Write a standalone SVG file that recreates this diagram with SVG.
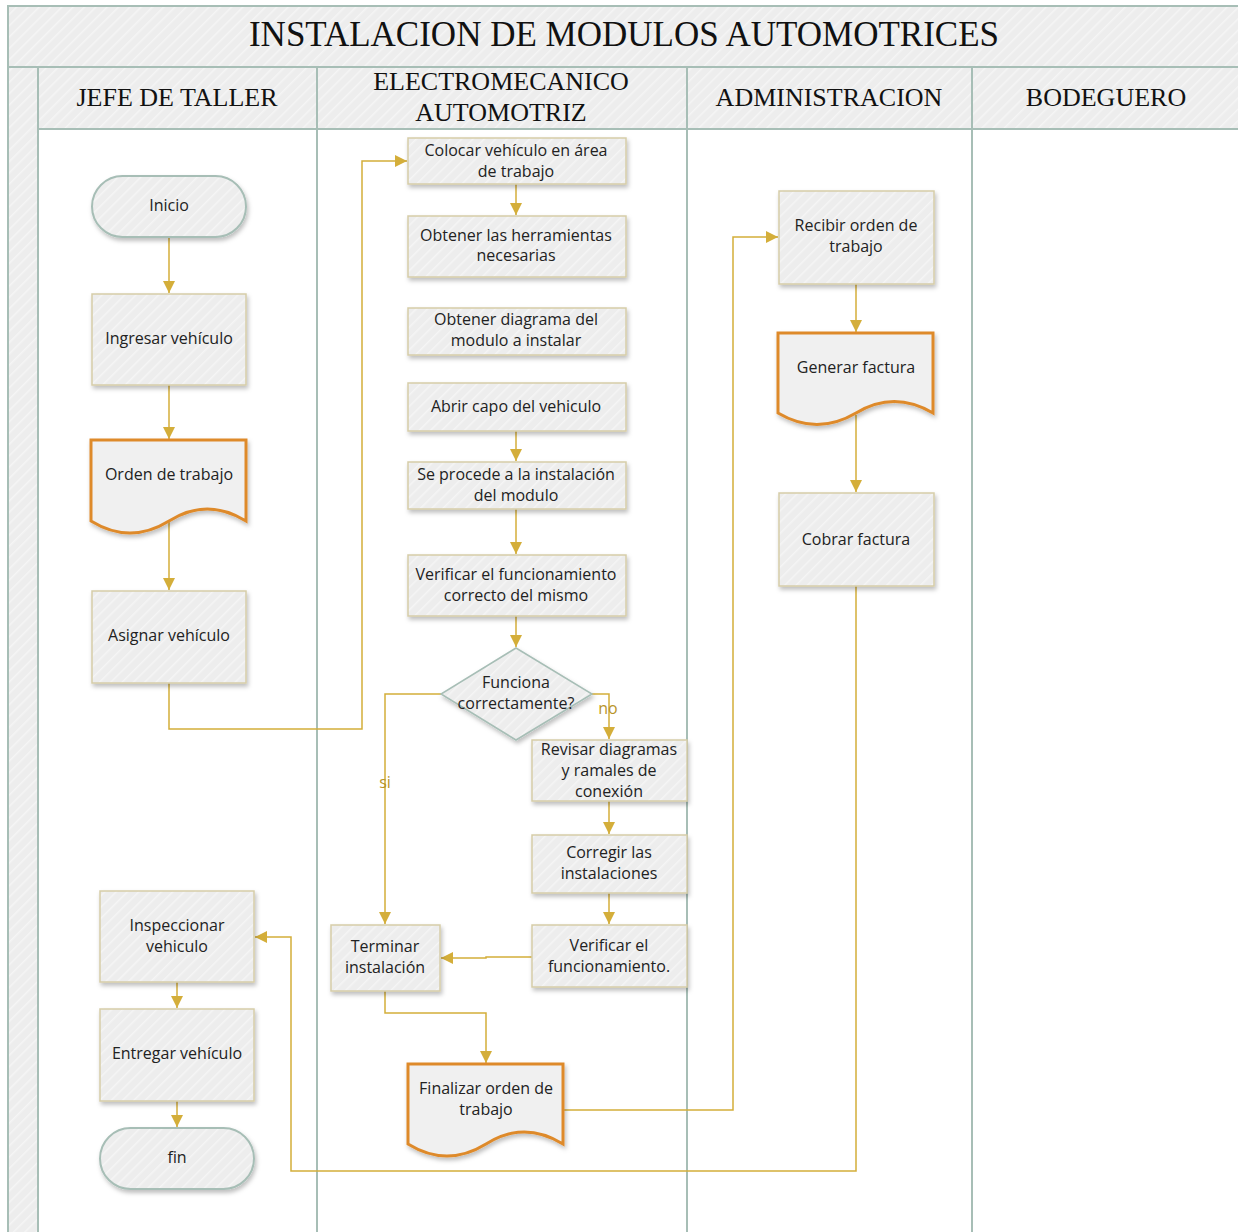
<svg xmlns="http://www.w3.org/2000/svg" width="1238" height="1232" viewBox="0 0 1238 1232">
  <defs>
    <pattern id="hatch" patternUnits="userSpaceOnUse" width="8" height="8" patternTransform="rotate(45)">
      <rect width="8" height="8" fill="#EDEDED"/>
      <line x1="0" y1="0" x2="0" y2="8" stroke="#F5F5F5" stroke-width="3"/>
    </pattern>
    <filter id="shadow" x="-10%" y="-10%" width="125%" height="130%">
      <feDropShadow dx="1.5" dy="3" stdDeviation="2" flood-color="#000" flood-opacity="0.25"/>
    </filter>
    <marker id="arrow" markerUnits="userSpaceOnUse" markerWidth="14" markerHeight="12" refX="12" refY="6" orient="auto">
      <path d="M0,0 L12,6 L0,12 Z" fill="#D4AE3A"/>
    </marker>
  </defs>
  <style>
    .lane { fill: url(#hatch); stroke: #A7BEB6; stroke-width: 2; }
    .laneLine { stroke: #A7BEB6; stroke-width: 2; fill: none; }
    .hdr { font-family: "Liberation Serif", serif; fill: #111; text-anchor: middle; }
    .proc { fill: url(#hatch); stroke: #D6CDA8; stroke-width: 1.5; filter: url(#shadow); }
    .term { fill: url(#hatch); stroke: #A7BEB6; stroke-width: 2; filter: url(#shadow); }
    .doc { fill: #F0F0F0; stroke: #DE8A2C; stroke-width: 3; filter: url(#shadow); }
    .dec { fill: url(#hatch); stroke: #A7BEB6; stroke-width: 1.5; filter: url(#shadow); }
    .lbl { font-family: "Open Sans", "Noto Sans", sans-serif; font-size: 16px; fill: #222; text-anchor: middle; }
    .edge { fill: none; stroke: #D4AE3A; stroke-width: 1.5; marker-end: url(#arrow); }
    .elbl { font-family: "Open Sans", "Noto Sans", sans-serif; font-size: 16px; fill: #B89428; text-anchor: middle; }
  </style>

  <rect width="1238" height="1232" fill="#FFFFFF"/>

  <!-- swimlane frame -->
  <g id="pool">
    <rect class="lane" x="8" y="6" width="1240" height="61"/>
    <rect class="lane" x="8" y="67" width="30" height="1175"/>
    <rect class="lane" x="38" y="67" width="279" height="62"/>
    <rect class="lane" x="317" y="67" width="370" height="62"/>
    <rect class="lane" x="687" y="67" width="285" height="62"/>
    <rect class="lane" x="972" y="67" width="276" height="62"/>
    <line class="laneLine" x1="317" y1="129" x2="317" y2="1232"/>
    <line class="laneLine" x1="687" y1="129" x2="687" y2="1232"/>
    <line class="laneLine" x1="972" y1="129" x2="972" y2="1232"/>
    <text class="hdr" x="624" y="46" font-size="35">INSTALACION DE MODULOS AUTOMOTRICES</text>
    <text class="hdr" x="177" y="106" font-size="26">JEFE DE TALLER</text>
    <text class="hdr" x="501" y="90" font-size="26">ELECTROMECANICO</text>
    <text class="hdr" x="501" y="121" font-size="26">AUTOMOTRIZ</text>
    <text class="hdr" x="829" y="106" font-size="26">ADMINISTRACION</text>
    <text class="hdr" x="1106" y="106" font-size="26">BODEGUERO</text>
  </g>

  <!-- connectors -->
  <g id="connectors">
    <path class="edge" d="M169,237 V293"/>
    <path class="edge" d="M169,385 V439"/>
    <path class="edge" d="M169,520 V590"/>
    <path class="edge" d="M169,683 V729 H362 V161 H407"/>
    <path class="edge" d="M516,184 V215"/>
    <path class="edge" d="M516,431 V461"/>
    <path class="edge" d="M516,509 V554"/>
    <path class="edge" d="M516,616 V647"/>
    <path class="edge" d="M441,694 H385 V924"/>
    <path class="edge" d="M592,694 H609 V739"/>
    <path class="edge" d="M609,801 V834"/>
    <path class="edge" d="M609,893 V924"/>
    <path class="edge" d="M532,957 H486 V958 H441"/>
    <path class="edge" d="M385,991 V1013 H486 V1063"/>
    <path class="edge" d="M563,1110 H733 V237 H778"/>
    <path class="edge" d="M856,284 V332"/>
    <path class="edge" d="M856,415 V492"/>
    <path class="edge" d="M856,586 V1171 H291 V937 H255"/>
    <path class="edge" d="M177,982 V1008"/>
    <path class="edge" d="M177,1101 V1127"/>
    <text class="elbl" x="385" y="788">si</text>
    <text class="elbl" x="608" y="714">no</text>
  </g>

  <!-- JEFE DE TALLER -->
  <g id="inicio">
    <rect class="term" x="92" y="176" width="154" height="61" rx="30.5"/>
    <text class="lbl" x="169" y="211">Inicio</text>
  </g>
  <g id="ingresar">
    <rect class="proc" x="92" y="294" width="154" height="91"/>
    <text class="lbl" x="169" y="344">Ingresar vehículo</text>
  </g>
  <g id="orden">
    <path class="doc" d="M91,440 H246 V521 Q207,497 169,521 Q130,545 91,521 Z"/>
    <text class="lbl" x="169" y="480">Orden de trabajo</text>
  </g>
  <g id="asignar">
    <rect class="proc" x="92" y="591" width="154" height="92"/>
    <text class="lbl" x="169" y="641">Asignar vehículo</text>
  </g>
  <g id="inspeccionar">
    <rect class="proc" x="100" y="891" width="154" height="91"/>
    <text class="lbl" x="177" y="931">Inspeccionar</text>
    <text class="lbl" x="177" y="952">vehiculo</text>
  </g>
  <g id="entregar">
    <rect class="proc" x="100" y="1009" width="154" height="92"/>
    <text class="lbl" x="177" y="1059">Entregar vehículo</text>
  </g>
  <g id="fin">
    <rect class="term" x="100" y="1128" width="154" height="61" rx="30.5"/>
    <text class="lbl" x="177" y="1163">fin</text>
  </g>

  <!-- ELECTROMECANICO AUTOMOTRIZ -->
  <g id="colocar">
    <rect class="proc" x="408" y="138" width="218" height="46"/>
    <text class="lbl" x="516" y="156">Colocar vehículo en área</text>
    <text class="lbl" x="516" y="177">de trabajo</text>
  </g>
  <g id="herramientas">
    <rect class="proc" x="408" y="216" width="218" height="61"/>
    <text class="lbl" x="516" y="241">Obtener las herramientas</text>
    <text class="lbl" x="516" y="261">necesarias</text>
  </g>
  <g id="diagrama">
    <rect class="proc" x="408" y="308" width="218" height="47"/>
    <text class="lbl" x="516" y="325">Obtener diagrama del</text>
    <text class="lbl" x="516" y="346">modulo a instalar</text>
  </g>
  <g id="capo">
    <rect class="proc" x="408" y="383" width="218" height="48"/>
    <text class="lbl" x="516" y="412">Abrir capo del vehiculo</text>
  </g>
  <g id="instalacion">
    <rect class="proc" x="408" y="462" width="218" height="47"/>
    <text class="lbl" x="516" y="480">Se procede a la instalación</text>
    <text class="lbl" x="516" y="501">del modulo</text>
  </g>
  <g id="verificar1">
    <rect class="proc" x="408" y="555" width="218" height="61"/>
    <text class="lbl" x="516" y="580">Verificar el funcionamiento</text>
    <text class="lbl" x="516" y="601">correcto del mismo</text>
  </g>
  <g id="funciona">
    <path class="dec" d="M516,648 L592,694 L516,740 L441,694 Z"/>
    <text class="lbl" x="516" y="688">Funciona</text>
    <text class="lbl" x="516" y="709">correctamente?</text>
  </g>
  <g id="revisar">
    <rect class="proc" x="532" y="740" width="155" height="61"/>
    <text class="lbl" x="609" y="755">Revisar diagramas</text>
    <text class="lbl" x="609" y="776">y ramales de</text>
    <text class="lbl" x="609" y="797">conexión</text>
  </g>
  <g id="corregir">
    <rect class="proc" x="532" y="835" width="155" height="58"/>
    <text class="lbl" x="609" y="858">Corregir las</text>
    <text class="lbl" x="609" y="879">instalaciones</text>
  </g>
  <g id="verificar2">
    <rect class="proc" x="532" y="925" width="155" height="62"/>
    <text class="lbl" x="609" y="951">Verificar el</text>
    <text class="lbl" x="609" y="972">funcionamiento.</text>
  </g>
  <g id="terminar">
    <rect class="proc" x="331" y="925" width="109" height="66"/>
    <text class="lbl" x="385" y="952">Terminar</text>
    <text class="lbl" x="385" y="973">instalación</text>
  </g>
  <g id="finalizar">
    <path class="doc" d="M408,1064 H563 V1144 Q524,1120 486,1144 Q447,1168 408,1144 Z"/>
    <text class="lbl" x="486" y="1094">Finalizar orden de</text>
    <text class="lbl" x="486" y="1115">trabajo</text>
  </g>

  <!-- ADMINISTRACION -->
  <g id="recibir">
    <rect class="proc" x="779" y="191" width="155" height="93"/>
    <text class="lbl" x="856" y="231">Recibir orden de</text>
    <text class="lbl" x="856" y="252">trabajo</text>
  </g>
  <g id="generar">
    <path class="doc" d="M778,333 H933 V413 Q894,390 856,413 Q817,436 778,413 Z"/>
    <text class="lbl" x="856" y="373">Generar factura</text>
  </g>
  <g id="cobrar">
    <rect class="proc" x="779" y="493" width="155" height="93"/>
    <text class="lbl" x="856" y="545">Cobrar factura</text>
  </g>
</svg>
